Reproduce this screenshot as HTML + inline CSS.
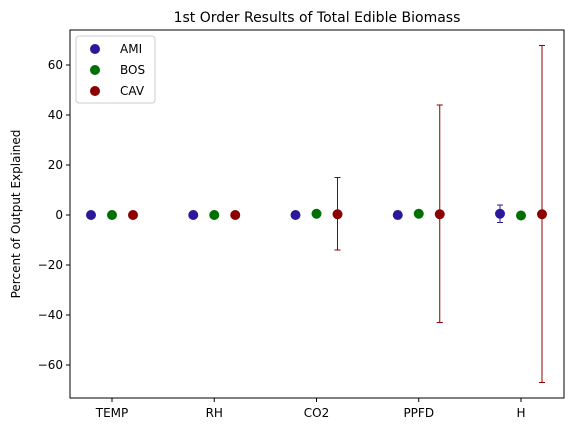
<!DOCTYPE html>
<html><head><meta charset="utf-8"><style>
body{margin:0;background:#fff;font-family:"Liberation Sans","DejaVu Sans",sans-serif}
</style></head><body>
<svg id="chart" width="574" height="433" xmlns="http://www.w3.org/2000/svg" font-family="DejaVu Sans, Liberation Sans, sans-serif"></svg>
<script>
const categories=["TEMP","RH","CO2","PPFD","H"];
const seriesNames=["AMI","BOS","CAV"];
const amiVals=[0,0,0,0,0.5];
const amiErr=[0,0,0,1.5,3.5];
const bosVals=[0,0,0.5,0.5,-0.2];
const bosErr=[0,0,0,0,0];
const cavVals=[0,0,0.3,0.3,0.3];
const cavErrHi=[0,0,14.7,43.7,67.5];
const cavErrLo=[0,0,14.3,43.3,67.3];
const yTicks=[-60,-40,-20,0,20,40,60];

const svg=document.getElementById('chart');
const NS="http://www.w3.org/2000/svg";
const L=70,R=564,T=30,B=398;
const yMin=-73.2,yMax=74;
const y=v=>B-(v-yMin)/(yMax-yMin)*(B-T);
const xc=i=>112+i*102.25;
function mk(tag,attrs,parent){const e=document.createElementNS(NS,tag);for(const k in attrs)e.setAttribute(k,attrs[k]);(parent||svg).appendChild(e);return e;}
const colors=["#2a1a9a","#007000","#8b0000"];
const offs=[-21,0,21];
const vals=[amiVals,bosVals,cavVals];
const hi=[amiErr,bosErr,cavErrHi];
const lo=[amiErr,bosErr,cavErrLo];
for(let s=0;s<3;s++){
  const g=mk('g',{});
  
  
  categories.forEach((c,i)=>{
    const cx=xc(i)+offs[s];
    if(hi[s][i]>0||lo[s][i]>0){
      const eb=mk('g',{stroke:colors[s],'stroke-width':1},g);
      
      
      const y1=y(vals[s][i]+hi[s][i]),y2=y(vals[s][i]-lo[s][i]);
      mk('line',{x1:cx,x2:cx,y1:y1,y2:y2},eb);
      mk('line',{x1:cx-3,x2:cx+3,y1:y1,y2:y1},eb);
      mk('line',{x1:cx-3,x2:cx+3,y1:y2,y2:y2},eb);
    }
    const p=mk('circle',{cx:cx,cy:y(vals[s][i]),r:5,fill:colors[s]},g);
    
    
  });
}
const ax=mk('rect',{x:L,y:T,width:R-L,height:B-T,fill:'none',stroke:'#000','stroke-width':1});


yTicks.forEach(t=>{
  const yy=y(t);
  mk('line',{x1:L-4,x2:L,y1:yy,y2:yy,stroke:'#000'});
  const tx=mk('text',{x:L-7,y:yy+4,'text-anchor':'end','font-size':12});
  
  
  tx.textContent=t<0?'\u2212'+(-t):t;
});
categories.forEach((c,i)=>{
  const xx=xc(i);
  mk('line',{x1:xx,x2:xx,y1:B,y2:B+4,stroke:'#000'});
  const tx=mk('text',{x:xx,y:B+19,'text-anchor':'middle','font-size':12});
  
  
  tx.textContent=c;
});
const yt=mk('text',{x:20,y:214,'text-anchor':'middle','font-size':12,transform:'rotate(-90 20 214)'});


yt.textContent='Percent of Output Explained';
const tt=mk('text',{x:317,y:22,'text-anchor':'middle','font-size':14});


tt.textContent='1st Order Results of Total Edible Biomass';
const lg=mk('g',{});


mk('rect',{x:76,y:36,width:79,height:67,rx:3,fill:'#fff',stroke:'#ccc'},lg);
seriesNames.forEach((n,i)=>{
  const e=mk('g',{},lg);
  
  
  mk('circle',{cx:95,cy:49+i*21,r:5,fill:colors[i]},e);
  const t=mk('text',{x:120,y:53+i*21,'font-size':12},e);
  t.textContent=n;
});
</script>
</body></html>
